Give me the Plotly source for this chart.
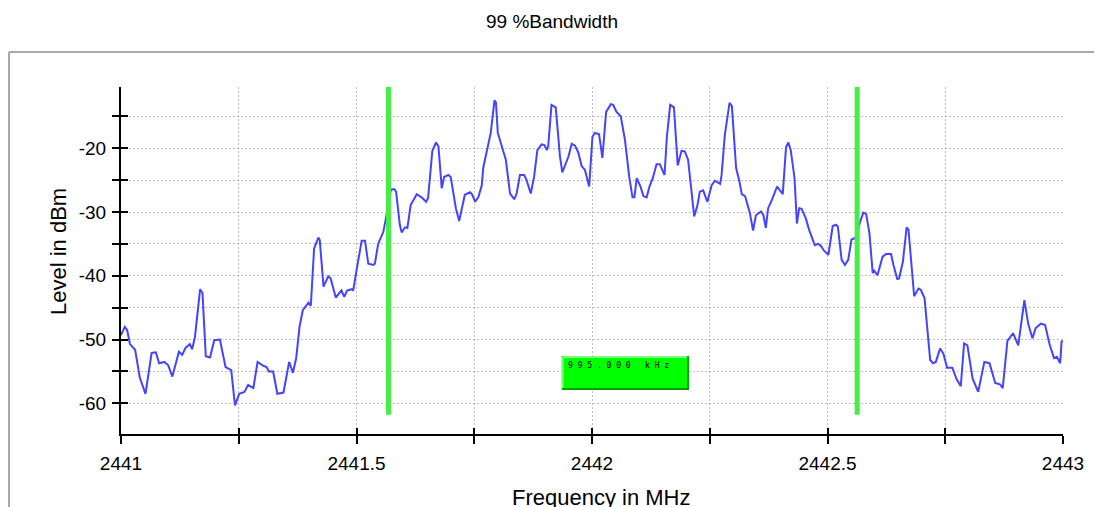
import plotly.graph_objects as go

# ---------------- data ----------------
freq_mhz = [
    2441.000, 2441.008, 2441.013, 2441.019, 2441.030, 2441.040, 2441.052, 2441.065, 2441.074, 2441.081,
    2441.092, 2441.100, 2441.109, 2441.123, 2441.130, 2441.137, 2441.146, 2441.151, 2441.157, 2441.168,
    2441.173, 2441.180, 2441.189, 2441.198, 2441.210, 2441.222, 2441.234, 2441.242, 2441.251, 2441.262,
    2441.270, 2441.281, 2441.290, 2441.302, 2441.309, 2441.314, 2441.323, 2441.332, 2441.345, 2441.357,
    2441.365, 2441.372, 2441.379, 2441.386, 2441.398, 2441.403, 2441.410, 2441.419, 2441.422, 2441.430,
    2441.440, 2441.445, 2441.456, 2441.468, 2441.474, 2441.480, 2441.490, 2441.493, 2441.502, 2441.511,
    2441.518, 2441.525, 2441.536, 2441.539, 2441.546, 2441.557, 2441.562, 2441.567, 2441.573, 2441.580,
    2441.584, 2441.592, 2441.596, 2441.603, 2441.608, 2441.615, 2441.628, 2441.638, 2441.648, 2441.652,
    2441.661, 2441.669, 2441.674, 2441.681, 2441.686, 2441.695, 2441.700, 2441.711, 2441.718, 2441.730,
    2441.741, 2441.745, 2441.752, 2441.759, 2441.766, 2441.769, 2441.780, 2441.785, 2441.793, 2441.796,
    2441.800, 2441.811, 2441.817, 2441.826, 2441.835, 2441.840, 2441.847, 2441.856, 2441.861, 2441.870,
    2441.877, 2441.884, 2441.893, 2441.899, 2441.904, 2441.907, 2441.914, 2441.923, 2441.932, 2441.937,
    2441.943, 2441.950, 2441.957, 2441.964, 2441.971, 2441.978, 2441.985, 2441.994, 2442.001, 2442.006,
    2442.015, 2442.022, 2442.030, 2442.040, 2442.045, 2442.052, 2442.061, 2442.070, 2442.079, 2442.086,
    2442.090, 2442.095, 2442.103, 2442.109, 2442.116, 2442.122, 2442.129, 2442.137, 2442.144, 2442.154,
    2442.159, 2442.166, 2442.174, 2442.182, 2442.190, 2442.197, 2442.204, 2442.217, 2442.224, 2442.229,
    2442.236, 2442.245, 2442.254, 2442.261, 2442.272, 2442.275, 2442.282, 2442.292, 2442.297, 2442.306,
    2442.313, 2442.318, 2442.325, 2442.335, 2442.342, 2442.348, 2442.359, 2442.364, 2442.369, 2442.374,
    2442.382, 2442.393, 2442.405, 2442.412, 2442.417, 2442.422, 2442.430, 2442.435, 2442.440, 2442.445,
    2442.454, 2442.461, 2442.473, 2442.480, 2442.486, 2442.493, 2442.502, 2442.511, 2442.518, 2442.522,
    2442.530, 2442.537, 2442.544, 2442.551, 2442.558, 2442.562, 2442.569, 2442.576, 2442.582, 2442.589,
    2442.596, 2442.599, 2442.606, 2442.617, 2442.624, 2442.635, 2442.640, 2442.648, 2442.652, 2442.660,
    2442.668, 2442.672, 2442.684, 2442.693, 2442.698, 2442.706, 2442.718, 2442.724, 2442.730, 2442.739,
    2442.746, 2442.754, 2442.765, 2442.774, 2442.783, 2442.790, 2442.797, 2442.808, 2442.820, 2442.833,
    2442.844, 2442.856, 2442.866, 2442.872, 2442.882, 2442.894, 2442.905, 2442.918, 2442.926, 2442.935,
    2442.942, 2442.953, 2442.962, 2442.972, 2442.981, 2442.987, 2442.994, 2442.997, 2443.000,
]

level_dbm = [
    -49.3, -48.0, -48.5, -50.7, -51.6, -56.0, -58.5, -52.1, -52.0, -53.7,
    -53.5, -54.0, -55.8, -51.9, -52.4, -51.3, -50.7, -51.5, -49.6, -42.1,
    -42.7, -52.6, -52.8, -50.1, -50.0, -54.3, -54.8, -60.3, -58.5, -58.2,
    -57.1, -57.6, -53.5, -54.1, -54.3, -55.0, -55.0, -58.5, -58.3, -53.5,
    -55.2, -52.9, -48.0, -45.4, -44.2, -44.7, -35.7, -34.0, -34.4, -41.7,
    -40.1, -40.4, -43.4, -42.3, -43.3, -42.3, -42.1, -42.3, -38.3, -34.5,
    -34.5, -38.1, -38.3, -38.1, -35.0, -33.1, -31.2, -28.9, -26.5, -26.4,
    -26.8, -32.0, -33.2, -32.4, -32.5, -28.9, -27.2, -27.7, -28.4, -27.8,
    -20.4, -19.1, -19.7, -26.3, -24.5, -24.2, -24.5, -29.4, -31.4, -27.3,
    -26.9, -27.2, -28.4, -27.6, -25.8, -23.1, -19.5, -17.6, -12.5, -12.8,
    -17.6, -20.3, -21.8, -27.1, -28.0, -27.1, -24.2, -24.2, -25.0, -27.1,
    -24.5, -20.3, -19.4, -19.5, -20.3, -19.7, -13.2, -13.6, -21.3, -23.8,
    -22.5, -21.3, -19.3, -19.6, -20.7, -22.8, -23.4, -26.0, -18.2, -17.6,
    -17.8, -21.5, -14.3, -13.1, -13.2, -14.3, -15.0, -18.7, -24.5, -27.7,
    -27.7, -24.7, -26.0, -27.5, -27.7, -26.0, -24.7, -22.5, -22.5, -24.2,
    -18.2, -13.2, -13.6, -22.7, -20.4, -20.5, -21.8, -30.7, -28.9, -26.8,
    -26.6, -28.4, -25.8, -25.1, -25.6, -24.3, -17.9, -12.9, -13.4, -23.1,
    -25.2, -27.2, -27.5, -30.1, -32.9, -30.5, -29.9, -30.5, -32.5, -29.4,
    -28.1, -26.0, -27.2, -19.8, -19.1, -20.3, -24.7, -31.8, -29.4, -29.5,
    -31.0, -32.8, -35.2, -35.0, -35.3, -36.1, -36.7, -32.2, -32.0, -32.3,
    -37.5, -38.3, -37.5, -34.3, -34.1, -33.6, -31.6, -30.1, -30.3, -33.3,
    -39.6, -39.2, -39.9, -37.0, -36.6, -36.6, -38.3, -40.5, -40.4, -37.8,
    -32.4, -32.8, -43.2, -42.0, -42.2, -43.5, -53.2, -53.7, -53.5, -51.4,
    -52.2, -54.4, -54.4, -56.2, -57.3, -50.6, -50.9, -56.1, -58.2, -53.5,
    -53.7, -56.8, -57.0, -57.6, -50.2, -49.0, -50.9, -43.8, -47.5, -49.8,
    -48.2, -47.5, -47.7, -50.9, -52.9, -52.7, -53.7, -50.3, -50.2,
]

bw_marker_freqs = [2441.568, 2442.563]
bw_label = "9 9 5 . 0 0 0   k H z"

x_tick_vals = [2441, 2441.5, 2442, 2442.5, 2443]
x_tick_text = ["2441", "2441.5", "2442", "2442.5", "2443"]
y_tick_vals = [-20, -30, -40, -50, -60]
y_tick_text = ["-20", "-30", "-40", "-50", "-60"]

# ---------------- figure ----------------
FONT = "Liberation Sans, Arial, sans-serif"
X_RANGE = [2441, 2443]
Y_RANGE = [-64.8, -10.4]
GRID = "#bdbdbd"
PAGE_OFF = 8  # default body margin of the html page

# window-pixel geometry of the plot area
PL, PR, PT, PB = 121, 1063, 87, 434
PW, PH = PR - PL, PB - PT


def px(xw):
    return (xw - PL) / PW


def py(yw):
    return (PB - yw) / PH


fig = go.Figure()
fig.add_trace(go.Scatter(
    x=freq_mhz, y=level_dbm, mode="lines",
    line=dict(color="#4444ff", width=2),
    hoverinfo="skip", showlegend=False,
))
# dummy trace to activate overlay axes (inside tick marks)
fig.add_trace(go.Scatter(x=[None], y=[None], xaxis="x2", yaxis="y2",
                         showlegend=False, hoverinfo="skip"))

DOT = "2px,2px"

fig.update_layout(
    width=1102 - PAGE_OFF, height=507 - PAGE_OFF,
    margin=dict(l=PL - PAGE_OFF, r=1102 - PR, t=PT - PAGE_OFF, b=507 - PB),
    paper_bgcolor="white", plot_bgcolor="white",
    font=dict(family=FONT, color="black"),
    showlegend=False,
    xaxis=dict(
        range=X_RANGE, tickvals=x_tick_vals, ticktext=x_tick_text,
        ticks="outside", ticklen=8, tickwidth=1.5, tickcolor="black",
        showline=True, linecolor="black", linewidth=2,
        tickfont=dict(size=19, family=FONT), ticklabelstandoff=3,
        showgrid=True, gridcolor=GRID, gridwidth=1, griddash=DOT,
        minor=dict(dtick=0.25, tick0=2441, ticks="outside", ticklen=8,
                   tickwidth=1.5, tickcolor="black",
                   showgrid=True, gridcolor=GRID, gridwidth=1, griddash=DOT),
        zeroline=False, fixedrange=True,
    ),
    yaxis=dict(
        range=Y_RANGE, tickvals=y_tick_vals, ticktext=y_tick_text,
        ticks="outside", ticklen=7, tickwidth=1.5, tickcolor="black",
        showline=True, linecolor="black", linewidth=2,
        tickfont=dict(size=19, family=FONT), ticklabelstandoff=2,
        showgrid=True, gridcolor=GRID, gridwidth=1, griddash=DOT,
        minor=dict(dtick=5, tick0=-60, ticks="outside", ticklen=7,
                   tickwidth=1.5, tickcolor="black",
                   showgrid=True, gridcolor=GRID, gridwidth=1, griddash=DOT),
        zeroline=False, fixedrange=True,
    ),
    xaxis2=dict(
        range=X_RANGE, overlaying="x", anchor="y", side="bottom",
        dtick=0.25, tick0=2441, ticks="inside", ticklen=6, tickwidth=1.5,
        tickcolor="black", showticklabels=False, showgrid=False,
        showline=False, zeroline=False, fixedrange=True,
    ),
    yaxis2=dict(
        range=Y_RANGE, overlaying="y", anchor="x", side="left",
        dtick=5, tick0=-60, ticks="inside", ticklen=7, tickwidth=1.5,
        tickcolor="black", showticklabels=False, showgrid=False,
        showline=False, zeroline=False, fixedrange=True,
    ),
)

# outer gray frame (top and left edges visible in the window)
fig.add_shape(type="line", xref="paper", yref="paper",
              x0=px(9), x1=px(1102), y0=py(52), y1=py(52),
              line=dict(color="#a8a8a8", width=2), layer="below")
fig.add_shape(type="line", xref="paper", yref="paper",
              x0=px(9), x1=px(9), y0=py(52), y1=py(507),
              line=dict(color="#a8a8a8", width=2), layer="below")

# bandwidth marker lines
for f in bw_marker_freqs:
    fig.add_shape(type="line", xref="x", yref="y",
                  x0=f, x1=f, y0=-61.8, y1=Y_RANGE[1],
                  line=dict(color="#44ee44", width=5), layer="above")

# bandwidth label box
fig.add_shape(type="rect", xref="x", yref="y",
              x0=2441.938, x1=2442.204, y0=-57.76, y1=-52.74,
              line=dict(color="#00a000", width=2), fillcolor="#00ff00",
              layer="above")
fig.add_shape(type="line", xref="x", yref="y",
              x0=2441.938, x1=2441.938, y0=-57.6, y1=-52.74,
              line=dict(color="#77ff77", width=2), layer="above")
fig.add_shape(type="line", xref="x", yref="y",
              x0=2441.938, x1=2442.202, y0=-52.74, y1=-52.74,
              line=dict(color="#77ff77", width=2), layer="above")
fig.add_annotation(x=2441.945, y=-54.1, xref="x", yref="y",
                   text=bw_label, showarrow=False, xanchor="left", yanchor="middle",
                   font=dict(size=8, family="DejaVu Sans Mono, monospace", color="black"))

# titles
fig.add_annotation(xref="paper", yref="paper", x=px(552), y=py(21),
                   text="99 %Bandwidth", showarrow=False,
                   xanchor="center", yanchor="middle",
                   font=dict(size=19, family=FONT))
fig.add_annotation(xref="paper", yref="paper", x=px(601), y=py(497),
                   text="Frequency in MHz", showarrow=False,
                   xanchor="center", yanchor="middle",
                   font=dict(size=22, family=FONT))
fig.add_annotation(xref="paper", yref="paper", x=px(58), y=py(252),
                   text="Level in dBm", showarrow=False, textangle=-90,
                   xanchor="center", yanchor="middle",
                   font=dict(size=22, family=FONT))

fig.write_html("out.html")
